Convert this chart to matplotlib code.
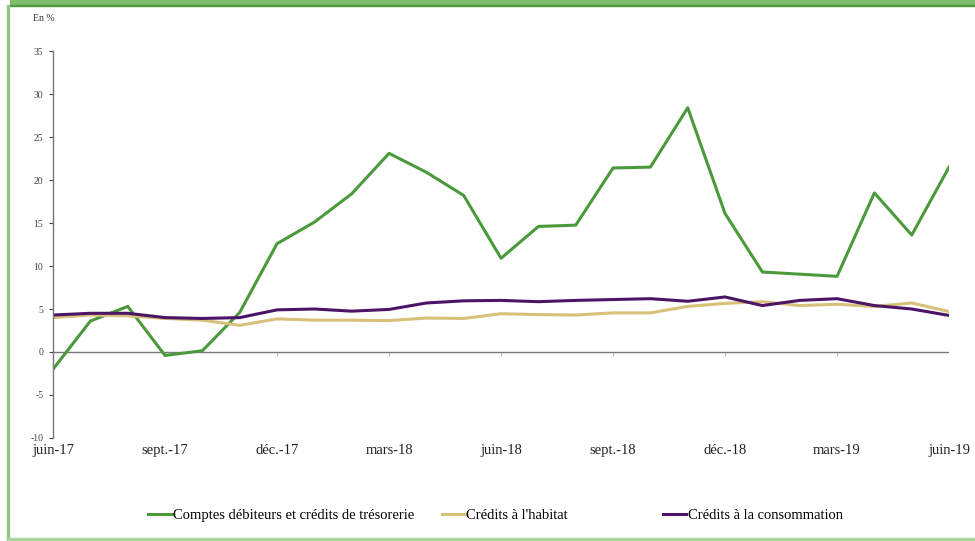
import matplotlib
matplotlib.use("Agg")
import matplotlib.pyplot as plt
from matplotlib.patches import Rectangle
import numpy as np

plt.rcParams["font.family"] = ["Liberation Serif", "DejaVu Serif"]
plt.rcParams["axes.unicode_minus"] = False

months = ["juin-17", "juil.-17", "août-17", "sept.-17", "oct.-17", "nov.-17",
          "déc.-17", "janv.-18", "févr.-18", "mars-18", "avr.-18", "mai-18",
          "juin-18", "juil.-18", "août-18", "sept.-18", "oct.-18", "nov.-18",
          "déc.-18", "janv.-19", "févr.-19", "mars-19", "avr.-19", "mai-19",
          "juin-19"]

comptes = [-2.0, 3.6, 5.3, -0.4, 0.15, 4.6, 12.6, 15.1, 18.4, 23.1, 20.9, 18.2,
           10.9, 14.6, 14.75, 21.4, 21.5, 28.4, 16.1, 9.3, 9.05, 8.8, 18.5, 13.6, 21.5]
habitat = [4.0, 4.3, 4.2, 3.9, 3.7, 3.1, 3.85, 3.7, 3.7, 3.65, 3.95, 3.9,
           4.45, 4.35, 4.3, 4.55, 4.55, 5.3, 5.65, 5.85, 5.4, 5.55, 5.3, 5.7, 4.7]
conso = [4.3, 4.5, 4.5, 4.0, 3.9, 4.0, 4.9, 5.0, 4.75, 4.95, 5.7, 5.95,
         6.0, 5.85, 6.0, 6.1, 6.2, 5.9, 6.4, 5.4, 6.0, 6.2, 5.4, 5.0, 4.25]

labels = ["Comptes débiteurs et crédits de trésorerie", "Crédits à l'habitat",
          "Crédits à la consommation"]
colors = ["#4a9a3c", "#d8c07a", "#4b1466"]

fig = plt.figure(figsize=(9.75, 5.41), dpi=100)
ax = fig.add_axes([0.0544, 0.1904, 0.9190, 0.7153])

x = np.arange(len(months))
lines = []
for vals, lab, col in zip([comptes, habitat, conso], labels, colors):
    ln, = ax.plot(x, vals, color=col, lw=2.2, label=lab)
    lines.append(ln)

ymin, ymax = -10, 35
ax.set_ylim(ymin, ymax)
ax.set_xlim(0, len(months) - 1)
ax.set_yticks(np.arange(-10, 36, 5))
ax.tick_params(axis="y", labelsize=7, colors="#444444", length=3, width=0.8, pad=4)
ax.set_xticks(x[::3])
ax.set_xticklabels(months[::3], fontsize=10.5, color="#222222")
ax.tick_params(axis="x", length=0, pad=4)

for s in ["top", "right", "bottom"]:
    ax.spines[s].set_visible(False)
ax.spines["left"].set_color("#777777")
ax.spines["left"].set_linewidth(1.0)

ax.axhline(0, color="#777777", lw=1.0, zorder=1)
sec = ax.secondary_xaxis((0 - ymin) / (ymax - ymin))
sec.set_xticks(x[3::3][:-1])
sec.tick_params(axis="x", direction="out", length=3, color="#bbbbbb", labelbottom=False, labeltop=False)
sec.spines["bottom"].set_visible(False)
sec.spines["top"].set_visible(False)

fig.text(0.034, 0.965, "En %", fontsize=7, color="#333333", va="center")

# legend entries placed like the original (uneven spacing)
for ln, xa in zip(lines, [0.152, 0.453, 0.680]):
    fig.legend(handles=[ln], loc="center left", bbox_to_anchor=(xa, 0.048), frameon=False,
               fontsize=10.5, handlelength=1.6, handletextpad=0.1, borderaxespad=0, borderpad=0)

# green frame
fig.patches.append(Rectangle((0.010, 0.990), 0.990, 0.010, transform=fig.transFigure,
                             color="#7dbd6b", zorder=0))
fig.patches.append(Rectangle((0.010, 0.988), 0.990, 0.003, transform=fig.transFigure,
                             color="#4f9c3f", zorder=0))
fig.patches.append(Rectangle((0.0075, 0.0), 0.002, 0.99, transform=fig.transFigure,
                             color="#8fc681", zorder=0))
fig.patches.append(Rectangle((0.0075, 0.001), 0.9925, 0.004, transform=fig.transFigure,
                             color="#a8d39c", zorder=0))

fig.savefig("out.png", dpi=100)
